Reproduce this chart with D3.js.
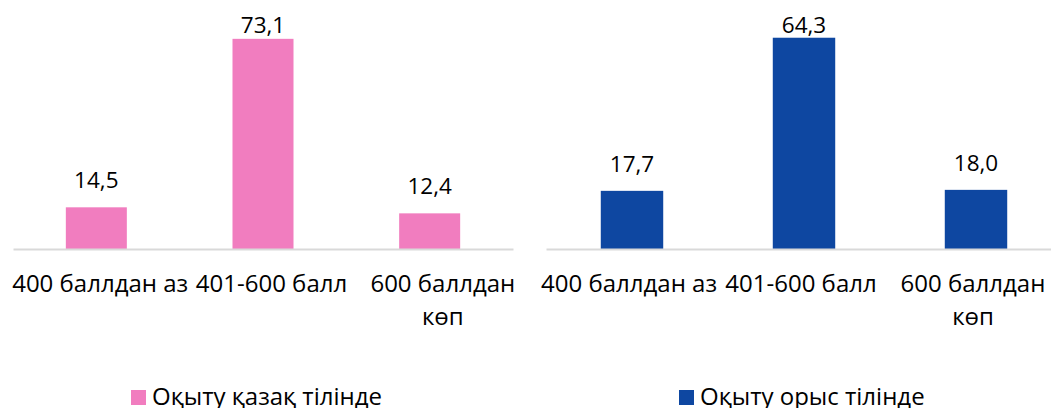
<!DOCTYPE html>
<html>
<head>
<meta charset="utf-8">
<script src="https://cdn.jsdelivr.net/npm/d3@7"></script>
<style>
  body { margin: 0; background: #fff; }
  text { font-family: "Open Sans", sans-serif; fill: #000; }
</style>
</head>
<body>
<script>
// categories and tick label lines (last one wraps in the original)
var categories = ["400 баллдан аз", "401-600 балл", "600 баллдан көп"];
var tickLines = [["400 баллдан аз"], ["401-600 балл"], ["600 баллдан", "көп"]];

// series
var seriesNames = ["Оқыту қазақ тілінде", "Оқыту орыс тілінде"];
var kazakhValues = [14.5, 73.1, 12.4];
var russianValues = [17.7, 64.3, 18.0];
var yMax = [80, 70];

const w = 1051;
const h = 408;

const svg = d3.select("body")
    .append("svg")
    .attr("width", w)
    .attr("height", h);

// one panel per series
var panels = [
    { name: seriesNames[0], values: kazakhValues, color: "#F17DBF", x0: 13, x1: 513, lx0: 14.5, lx1: 528.5, max: yMax[0], pad: 0.634, legendX: 131 },
    { name: seriesNames[1], values: russianValues, color: "#0E47A1", x0: 546, x1: 1062, lx0: 543, lx1: 1059, max: yMax[1], pad: 0.637, legendX: 679 }
];

const baseY = 249;
const topY = 19;

panels.forEach(function (p) {
    const xScale = d3.scaleBand()
        .domain(categories)
        .range([p.x0, p.x1])
        .paddingInner(p.pad)
        .paddingOuter(p.pad / 2);

    // label slots are a little wider than the bar slots in the original
    const labelScale = d3.scaleBand()
        .domain(categories)
        .range([p.lx0, p.lx1]);

    const yScale = d3.scaleLinear()
        .domain([0, p.max])
        .range([baseY, topY]);

    const g = svg.append("g");

    // bars
    g.selectAll("rect")
        .data(p.values)
        .enter()
        .append("rect")
        .attr("x", (d, i) => xScale(categories[i]))
        .attr("y", (d) => yScale(d))
        .attr("width", xScale.bandwidth())
        .attr("height", (d) => yScale(0) - yScale(d))
        .attr("fill", p.color);

    // value labels, pushed down when they would leave the plot
    g.selectAll("text.val")
        .data(p.values)
        .enter()
        .append("text")
        .attr("class", "val")
        .attr("x", (d, i) => xScale(categories[i]) + xScale.bandwidth() / 2)
        .attr("y", (d) => Math.max(yScale(d) - 19, 33))
        .attr("text-anchor", "middle")
        .style("font-size", "22.5px")
        .text((d) => d.toFixed(1).replace(".", ","));

    // x axis line
    const xAxis = d3.axisBottom(xScale).tickSize(0).tickFormat("");
    const ax = g.append("g")
        .attr("transform", "translate(0," + baseY + ")")
        .call(xAxis);
    ax.select(".domain").attr("stroke", "#D9D9D9").attr("stroke-width", 2);

    // tick labels with manual line breaks
    g.selectAll("text.tick-label")
        .data(categories)
        .enter()
        .append("text")
        .attr("class", "tick-label")
        .attr("text-anchor", "middle")
        .style("font-size", "24px")
        .attr("y", baseY + 43)
        .each(function (d, i) {
            const t = d3.select(this);
            const cx = labelScale(d) + labelScale.bandwidth() / 2;
            tickLines[i].forEach(function (line, j) {
                t.append("tspan")
                    .attr("x", cx)
                    .attr("dy", j === 0 ? 0 : 33)
                    .text(line);
            });
        });

    // legend
    const lg = svg.append("g")
        .attr("transform", "translate(" + p.legendX + ",390)");
    lg.append("rect")
        .attr("width", 15)
        .attr("height", 15)
        .attr("fill", p.color);
    lg.append("text")
        .attr("x", 21)
        .attr("y", 15)
        .style("font-size", "24px")
        .text(p.name);
});
</script>
</body>
</html>
